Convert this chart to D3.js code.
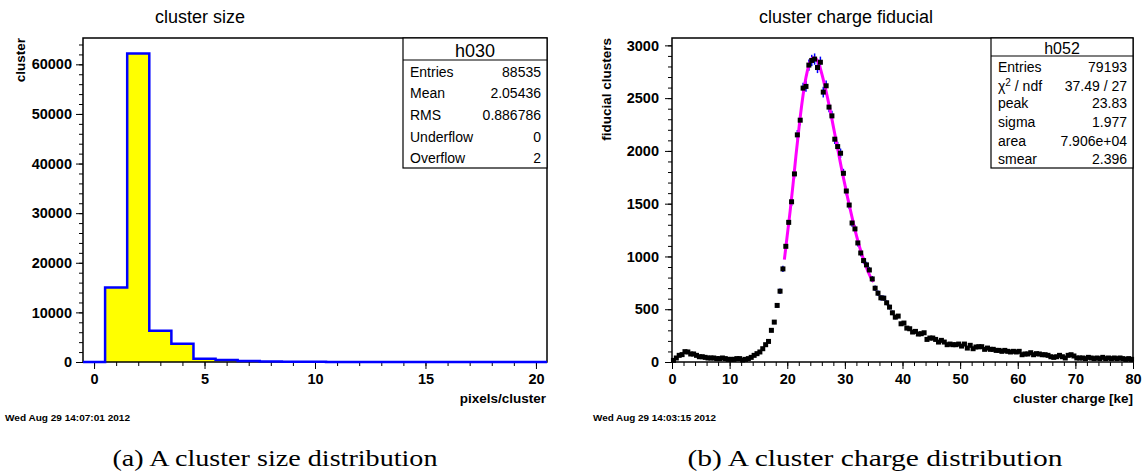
<!DOCTYPE html>
<html>
<head>
<meta charset="utf-8">
<script src="https://cdn.jsdelivr.net/npm/d3@7"></script>
<style>
  body { margin: 0; background: #fff; }
  svg { display: block; }
  text { font-family: "Liberation Sans", Arial, Helvetica, sans-serif; }
</style>
</head>
<body>
<svg id="fig" width="1145" height="473"></svg>
<script>
// ---- cluster size histogram (h030), one bin per pixel count 0..20
const sizeBins = [0, 1, 2, 3, 4, 5, 6, 7, 8, 9, 10, 11, 12, 13, 14, 15, 16, 17, 18, 19, 20];
const sizeCounts = [0, 15000, 62200, 6300, 3700, 670, 400, 200, 100, 60, 40, 25, 15, 10, 8, 5, 4, 3, 2, 2, 1];
const sizeStatsLabels = ['Entries', 'Mean', 'RMS', 'Underflow', 'Overflow'];
const sizeStatsValues = ['88535', '2.05436', '0.886786', '0', '2'];

// ---- cluster charge histogram (h052), 0.5 ke bins from 0 to 80
const chargeLow = 0;
const chargeBinWidth = 0.5;
const chargeCounts = [
  15, 38, 63, 70, 98, 95, 76, 76, 63, 50,
  50, 44, 38, 38, 38, 32, 32, 38, 32, 25,
  25, 25, 32, 32, 19, 25, 32, 44, 63, 79,
  95, 126, 164, 195, 300, 378, 536, 671, 882, 1096,
  1323, 1518, 1782, 2152, 2291, 2595, 2611, 2813, 2857, 2870,
  2790, 2840, 2557, 2617, 2415, 2332, 2111, 2041, 1978, 1788,
  1620, 1487, 1317, 1261, 1128, 1033, 961, 920, 872, 787,
  699, 652, 608, 605, 561, 520, 466, 425, 435, 362,
  369, 321, 315, 284, 290, 265, 268, 277, 214, 227,
  227, 214, 189, 205, 189, 164, 170, 164, 164, 170,
  151, 170, 132, 158, 126, 142, 145, 145, 120, 132,
  120, 120, 110, 110, 101, 110, 101, 95, 101, 95,
  101, 69, 76, 76, 88, 69, 79, 76, 69, 69,
  63, 50, 44, 50, 63, 50, 38, 63, 69, 57,
  38, 38, 38, 32, 44, 38, 32, 38, 32, 44,
  32, 38, 32, 38, 32, 38, 32, 25, 32, 25
];
// fitted curve
const fitX = [19.5, 20, 20.5, 21, 21.5, 22, 22.5, 23, 23.5, 24, 24.5, 25, 25.5, 26, 26.5, 27, 27.5, 28,
  28.5, 29, 29.5, 30, 30.5, 31, 31.5, 32, 32.5, 33, 33.5, 34, 34.5, 35];
const fitY = [970, 1200, 1430, 1680, 1950, 2200, 2430, 2620, 2760, 2850, 2880, 2870, 2820, 2730, 2620, 2500, 2370, 2230,
  2090, 1950, 1810, 1680, 1550, 1430, 1310, 1200, 1100, 1010, 930, 860, 800, 760];
const chargeStatsLabels = ['Entries', 'chi', 'peak', 'sigma', 'area', 'smear'];
const chargeStatsValues = ['79193', '37.49 / 27', '23.83', '1.977', '7.906e+04', '2.396'];

const svg = d3.select('#fig');
svg.append('rect').attr('width', 1145).attr('height', 473).attr('fill', '#fff');

function drawAxes(g, x, y, o) {
    // minor ticks first, then majors with labels
    g.append('g').attr('transform', `translate(0,${o.bottom})`)
        .call(d3.axisBottom(x).tickValues(o.xMinor).tickSize(4).tickFormat(''));
    g.append('g').attr('transform', `translate(0,${o.bottom})`)
        .call(d3.axisBottom(x).tickValues(o.xMajor).tickSize(7).tickPadding(5).tickFormat(d3.format('d')));
    g.append('g').attr('transform', `translate(${o.left},0)`)
        .call(d3.axisLeft(y).tickValues(o.yMinor).tickSize(4).tickFormat(''));
    g.append('g').attr('transform', `translate(${o.left},0)`)
        .call(d3.axisLeft(y).tickValues(o.yMajor).tickSize(7).tickPadding(o.yPad).tickFormat(d3.format('d')));
    g.selectAll('.domain').remove();
    g.selectAll('.tick line').attr('stroke', '#000').attr('stroke-width', 1);
    g.selectAll('.tick text')
        .attr('fill', '#000')
        .style('font-size', '14.5px')
        .style('font-weight', 'bold')
        .style('font-family', '"Liberation Sans", Arial, sans-serif');
}

function statsBox(g, o) {
    g.append('rect')
        .attr('x', o.x0).attr('y', o.y0)
        .attr('width', o.x1 - o.x0).attr('height', o.y1 - o.y0)
        .attr('fill', '#fff').attr('stroke', '#000').attr('stroke-width', 1.2);
    g.append('line')
        .attr('x1', o.x0).attr('x2', o.x1).attr('y1', o.sep).attr('y2', o.sep)
        .attr('stroke', '#000').attr('stroke-width', 1.2);
    g.append('text')
        .attr('x', (o.x0 + o.x1) / 2).attr('y', o.headBase)
        .attr('text-anchor', 'middle')
        .style('font-size', o.headSize + 'px')
        .text(o.name);
    o.labels.forEach((lab, i) => {
        const t = g.append('text')
            .attr('x', o.x0 + 7).attr('y', o.rowBase[i])
            .style('font-size', '14px');
        if (lab === 'chi') {
            t.append('tspan').text('\u03c7');
            t.append('tspan').attr('dy', -5).style('font-size', '10px').text('2');
            t.append('tspan').attr('dy', 5).text(' / ndf');
        } else {
            t.text(lab);
        }
        g.append('text')
            .attr('x', o.x1 - 6).attr('y', o.rowBase[i])
            .attr('text-anchor', 'end')
            .style('font-size', '14px')
            .text(o.values[i]);
    });
}

// ================= left panel: cluster size =================
{
    const left = 83, right = 547, top = 38, bottom = 362;
    const x = d3.scaleLinear().domain([-0.5, 20.5]).range([left, right]);
    const y = d3.scaleLinear().domain([0, d3.max(sizeCounts) * 1.05]).range([bottom, top]);
    const g = svg.append('g');

    g.append('text')
        .attr('x', 200).attr('y', 23)
        .attr('text-anchor', 'middle')
        .style('font-size', '18px')
        .text('cluster size');

    // step outline of the histogram
    const steps = [];
    sizeBins.forEach((b, i) => {
        steps.push([b - 0.5, sizeCounts[i]]);
        steps.push([b + 0.5, sizeCounts[i]]);
    });
    const line = d3.line().x(d => x(d[0])).y(d => y(d[1]));
    const area = d3.area().x(d => x(d[0])).y0(y(0)).y1(d => y(d[1]));

    g.append('path').datum(steps).attr('d', area).attr('fill', '#ffff00');

    drawAxes(g, x, y, {
        bottom, left, yPad: 4,
        xMajor: [0, 5, 10, 15, 20],
        xMinor: d3.range(0, 21, 1),
        yMajor: [0, 10000, 20000, 30000, 40000, 50000, 60000],
        yMinor: d3.range(0, 64001, 2000)
    });

    g.append('rect')
        .attr('x', left).attr('y', top)
        .attr('width', right - left).attr('height', bottom - top)
        .attr('fill', 'none').attr('stroke', '#000').attr('stroke-width', 1.5);

    g.append('path').datum(steps).attr('d', line)
        .attr('fill', 'none').attr('stroke', '#0000ff').attr('stroke-width', 2.5)
        .attr('stroke-linejoin', 'miter');

    g.append('text')
        .attr('transform', `translate(25,${top}) rotate(-90)`)
        .attr('text-anchor', 'end')
        .style('font-size', '13.5px').style('font-weight', 'bold')
        .text('cluster');
    g.append('text')
        .attr('x', right - 1).attr('y', 403)
        .attr('text-anchor', 'end')
        .style('font-size', '13.5px').style('font-weight', 'bold')
        .text('pixels/cluster');

    statsBox(g, {
        x0: 403, x1: right, y0: top, y1: 168, sep: 60,
        name: 'h030', headSize: 18, headBase: 57,
        labels: sizeStatsLabels, values: sizeStatsValues,
        rowBase: [77, 98, 120, 142, 163]
    });

    g.append('text')
        .attr('x', 5).attr('y', 421)
        .attr('textLength', 125).attr('lengthAdjust', 'spacingAndGlyphs')
        .style('font-size', '9px').style('font-weight', 'bold')
        .text('Wed Aug 29 14:07:01 2012');

    g.append('text')
        .attr('x', 275).attr('y', 466)
        .attr('text-anchor', 'middle')
        .attr('textLength', 325).attr('lengthAdjust', 'spacingAndGlyphs')
        .style('font-family', '"Liberation Serif", "DejaVu Serif", serif')
        .style('font-size', '23px')
        .text('(a) A cluster size distribution');
}

// ================= right panel: cluster charge =================
{
    const left = 672, right = 1133, top = 38, bottom = 362;
    const x = d3.scaleLinear().domain([0, 80]).range([left, right]);
    const pts = chargeCounts.map((c, i) => ({
        x: chargeLow + chargeBinWidth * (i + 0.5),
        y: c,
        e: Math.sqrt(c)
    }));
    const y = d3.scaleLinear().domain([0, d3.max(pts, d => d.y + d.e) * 1.05]).range([bottom, top]);
    const g = svg.append('g');

    g.append('text')
        .attr('x', 846).attr('y', 23)
        .attr('text-anchor', 'middle')
        .style('font-size', '18px')
        .text('cluster charge fiducial');

    drawAxes(g, x, y, {
        bottom, left, yPad: 6,
        xMajor: d3.range(0, 81, 10),
        xMinor: d3.range(0, 81, 2),
        yMajor: d3.range(0, 3001, 500),
        yMinor: d3.range(0, 3001, 100)
    });

    g.append('rect')
        .attr('x', left).attr('y', top)
        .attr('width', right - left).attr('height', bottom - top)
        .attr('fill', 'none').attr('stroke', '#000').attr('stroke-width', 1.5);

    // error bars
    const eb = g.append('g').attr('stroke', '#0000ff').attr('stroke-width', 1.5);
    eb.selectAll('line.v').data(pts).join('line').attr('class', 'v')
        .attr('x1', d => x(d.x)).attr('x2', d => x(d.x))
        .attr('y1', d => y(d.y - d.e)).attr('y2', d => y(d.y + d.e));
    eb.selectAll('line.h').data(pts).join('line').attr('class', 'h')
        .attr('x1', d => x(d.x - chargeBinWidth / 2)).attr('x2', d => x(d.x + chargeBinWidth / 2))
        .attr('y1', d => y(d.y)).attr('y2', d => y(d.y));

    // fit
    const fitLine = d3.line().x((d, i) => x(fitX[i])).y(d => y(d)).curve(d3.curveMonotoneX);
    g.append('path').datum(fitY).attr('d', fitLine)
        .attr('fill', 'none').attr('stroke', '#ff00ff').attr('stroke-width', 3);

    // markers
    const ms = 5;
    g.append('g').selectAll('rect').data(pts).join('rect')
        .attr('x', d => x(d.x) - ms / 2).attr('y', d => y(d.y) - ms / 2)
        .attr('width', ms).attr('height', ms)
        .attr('fill', '#000');

    g.append('text')
        .attr('transform', `translate(611,${top}) rotate(-90)`)
        .attr('text-anchor', 'end')
        .style('font-size', '13.5px').style('font-weight', 'bold')
        .text('fiducial clusters');
    g.append('text')
        .attr('x', right).attr('y', 403)
        .attr('text-anchor', 'end')
        .style('font-size', '13.5px').style('font-weight', 'bold')
        .text('cluster charge [ke]');

    statsBox(g, {
        x0: 991, x1: right, y0: top, y1: 168, sep: 56,
        name: 'h052', headSize: 16, headBase: 54,
        labels: chargeStatsLabels, values: chargeStatsValues,
        rowBase: [72, 91, 108, 127, 146, 164]
    });

    g.append('text')
        .attr('x', 593).attr('y', 421)
        .attr('textLength', 123).attr('lengthAdjust', 'spacingAndGlyphs')
        .style('font-size', '9px').style('font-weight', 'bold')
        .text('Wed Aug 29 14:03:15 2012');

    g.append('text')
        .attr('x', 875).attr('y', 466)
        .attr('text-anchor', 'middle')
        .attr('textLength', 375).attr('lengthAdjust', 'spacingAndGlyphs')
        .style('font-family', '"Liberation Serif", "DejaVu Serif", serif')
        .style('font-size', '23px')
        .text('(b) A cluster charge distribution');
}
</script>
</body>
</html>
